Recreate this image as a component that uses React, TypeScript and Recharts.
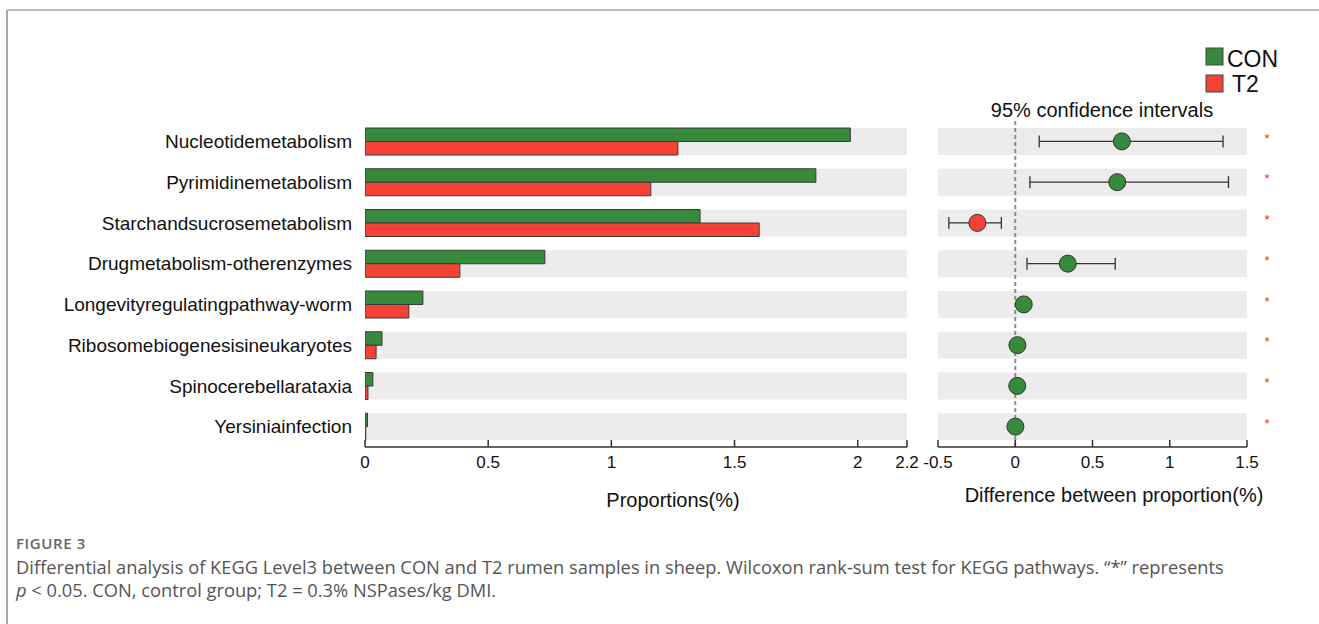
import React from "react";
import {
  BarChart,
  Bar,
  ComposedChart,
  Scatter,
  ErrorBar,
  ReferenceLine,
  XAxis,
  YAxis
} from "recharts";

const pathways = [
  "Nucleotidemetabolism",
  "Pyrimidinemetabolism",
  "Starchandsucrosemetabolism",
  "Drugmetabolism-otherenzymes",
  "Longevityregulatingpathway-worm",
  "Ribosomebiogenesisineukaryotes",
  "Spinocerebellarataxia",
  "Yersiniainfection"
];
const conProportion = [1.97, 1.83, 1.36, 0.73, 0.235, 0.069, 0.032, 0.01];
const t2Proportion = [1.27, 1.16, 1.6, 0.385, 0.178, 0.045, 0.012, 0.003];
const diffMean = [0.69, 0.66, -0.245, 0.34, 0.055, 0.014, 0.013, 0.001];
const ciLow = [0.155, 0.095, -0.43, 0.076, 0.03, 0.004, 0.004, -0.003];
const ciHigh = [1.345, 1.38, -0.09, 0.647, 0.08, 0.024, 0.022, 0.005];
const significance = ["*", "*", "*", "*", "*", "*", "*", "*"];
const proportionTicks = [0, 0.5, 1, 1.5, 2, 2.2];
const diffTicks = [-0.5, 0, 0.5, 1, 1.5];

const GREEN = "#378a3b";
const RED = "#f44336";
const BAND = "#ececec";
const FONT = "'Liberation Sans', Arial, sans-serif";

const propRows = pathways.map((name, i) => ({
  name,
  con: conProportion[i],
  t2: t2Proportion[i]
}));

const diffRows = pathways.map((name, i) => ({
  name,
  diff: diffMean[i],
  err: [diffMean[i] - ciLow[i], ciHigh[i] - diffMean[i]]
}));

// ticks point up into the plot, label sits under the axis line
function AxisTick(props: any) {
  const { x, y, payload } = props;
  return (
    <g>
      <line x1={x} x2={x} y1={y - 7} y2={y} stroke="#333" strokeWidth={1.5} />
      <text x={x} y={y + 21} textAnchor="middle" fontSize={17} fill="#111" fontFamily={FONT}>
        {payload.value}
      </text>
    </g>
  );
}

// gray band behind both bars of a row
function pairBand(p: any) {
  return (
    <rect key={`band-${p.index}`} x={p.x} y={p.y} width={p.width} height={p.height * 2} fill={BAND} />
  );
}

function bandWithStar(p: any) {
  return (
    <g key={`sig-${p.index}`}>
      <rect x={p.x} y={p.y} width={p.width} height={p.height} fill={BAND} />
      <text
        x={p.x + p.width + 20}
        y={p.y + p.height / 2 + 1}
        textAnchor="middle"
        fontSize={13}
        fill="#ff1a1a"
        fontFamily={FONT}
      >
        {significance[p.index]}
      </text>
    </g>
  );
}

function DiffDot(p: any) {
  if (p.cx == null || p.cy == null) return null;
  return (
    <circle
      cx={p.cx}
      cy={p.cy}
      r={8.5}
      fill={p.payload.diff >= 0 ? GREEN : RED}
      stroke="#333"
      strokeWidth={1}
    />
  );
}

const axisLine = { stroke: "#333", strokeWidth: 1.5 };

export default function App() {
  return (
    <div
      style={{
        position: "absolute",
        left: 0,
        top: 0,
        width: 1319,
        height: 624,
        overflow: "hidden",
        background: "#fff"
      }}
    >
      <div style={{ position: "absolute", left: 0, top: 100 }}>
        <BarChart
          width={927}
          height={377}
          data={propRows}
          layout="vertical"
          barGap={0}
          margin={{ top: 21, right: 20, left: 0, bottom: 0 }}
        >
          <XAxis
            type="number"
            domain={[0, 2.2]}
            ticks={proportionTicks}
            interval={0}
            allowDataOverflow
            tickSize={0}
            tickMargin={0}
            tick={<AxisTick />}
            axisLine={axisLine}
            height={30}
          />
          <YAxis
            type="category"
            dataKey="name"
            width={365}
            tickLine={false}
            axisLine={false}
            tickSize={0}
            tickMargin={13}
            interval={0}
            tick={{ fontSize: 19, fill: "#111", fontFamily: FONT }}
          />
          <Bar
            dataKey="con"
            fill={GREEN}
            stroke="#3a3a3a"
            strokeWidth={1}
            barSize={13.5}
            background={pairBand}
            isAnimationActive={false}
          />
          <Bar
            dataKey="t2"
            fill={RED}
            stroke="#3a3a3a"
            strokeWidth={1}
            barSize={13.5}
            isAnimationActive={false}
          />
        </BarChart>
      </div>

      <div style={{ position: "absolute", left: 908, top: 100 }}>
        <ComposedChart
          width={379}
          height={377}
          data={diffRows}
          layout="vertical"
          margin={{ top: 21, right: 40, left: 30, bottom: 0 }}
        >
          <XAxis
            type="number"
            dataKey="diff"
            domain={[-0.5, 1.5]}
            ticks={diffTicks}
            interval={0}
            allowDataOverflow
            tickSize={0}
            tickMargin={0}
            tick={<AxisTick />}
            axisLine={axisLine}
            height={30}
          />
          <YAxis type="category" dataKey="name" hide />
          <Bar
            dataKey="diff"
            fill="none"
            barSize={27}
            background={bandWithStar}
            isAnimationActive={false}
          />
          <ReferenceLine x={0} stroke="#8c8c8c" strokeWidth={2} strokeDasharray="4 3" />
          <Scatter dataKey="diff" shape={DiffDot} isAnimationActive={false}>
            <ErrorBar dataKey="err" direction="x" width={6} stroke="#333" strokeWidth={1.3} />
          </Scatter>
        </ComposedChart>
      </div>

      <svg
        width={1319}
        height={624}
        style={{ position: "absolute", left: 0, top: 0, pointerEvents: "none" }}
        fontFamily={FONT}
      >
        <line x1={7} y1={10} x2={1319} y2={10} stroke="#bdbdbd" strokeWidth={2} />
        <line x1={7} y1={10} x2={7} y2={624} stroke="#a8a8a8" strokeWidth={2} />
        <rect x={1206} y={48} width={17} height={17} fill={GREEN} stroke="#444" />
        <text x={1227} y={67} fontSize={23} fill="#111">CON</text>
        <rect x={1206} y={75} width={17} height={17} fill={RED} stroke="#444" />
        <text x={1232} y={92} fontSize={23} fill="#111">T2</text>
        <text x={1102} y={117} fontSize={20} fill="#111" textAnchor="middle">
          95% confidence intervals
        </text>
        <text x={673} y={507} fontSize={20} fill="#111" textAnchor="middle">
          Proportions(%)
        </text>
        <text x={1114} y={502} fontSize={20} fill="#111" textAnchor="middle">
          Difference between proportion(%)
        </text>
      </svg>

      <div
        style={{
          position: "absolute",
          left: 16,
          top: 533,
          fontFamily: "'Open Sans', sans-serif",
          color: "#555"
        }}
      >
        <div style={{ fontSize: 15, fontWeight: 600, color: "#666", letterSpacing: 0.6, marginBottom: 2 }}>
          FIGURE 3
        </div>
        <div style={{ fontSize: 18.3, lineHeight: "23px", whiteSpace: "nowrap" }}>
          Differential analysis of KEGG Level3 between CON and T2 rumen samples in sheep. Wilcoxon
          rank-sum test for KEGG pathways. “*” represents
        </div>
        <div style={{ fontSize: 18.3, lineHeight: "23px", whiteSpace: "nowrap" }}>
          <i>p</i> &lt; 0.05. CON, control group; T2 = 0.3% NSPases/kg DMI.
        </div>
      </div>
    </div>
  );
}
